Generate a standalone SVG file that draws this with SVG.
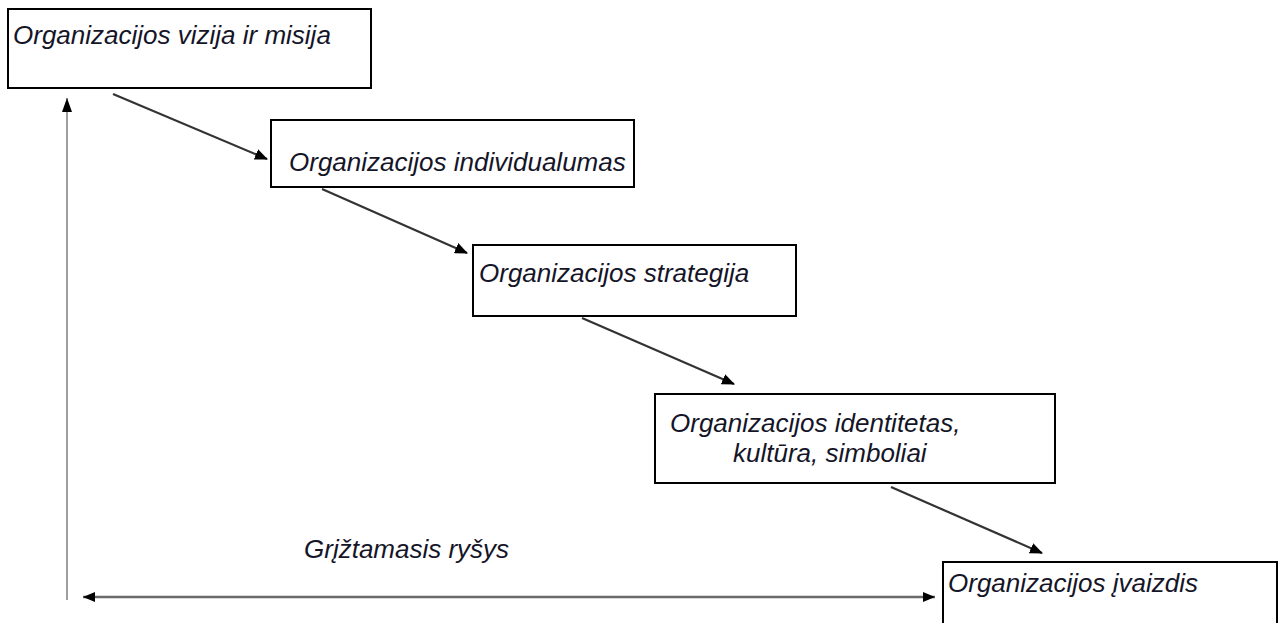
<svg xmlns="http://www.w3.org/2000/svg" width="1284" height="623" viewBox="0 0 1284 623">
  <style>
    .box { fill: #ffffff; stroke: #000000; stroke-width: 2; }
    .lbl { font-family: "Liberation Sans", Arial, sans-serif; font-style: italic; font-size: 26px; fill: #151528; }
    .flow { stroke: #333333; stroke-width: 2.2; fill: none; marker-end: url(#head); }
    .fb { stroke: #6a6a6a; fill: none; }
  </style>
  <defs>
    <marker id="head" viewBox="0 0 13 11" refX="12" refY="5.5" markerWidth="13" markerHeight="11" markerUnits="userSpaceOnUse" orient="auto">
      <path d="M0,0 L13,5.5 L0,11 Z" fill="#000000"/>
    </marker>
    <marker id="headS" viewBox="0 0 12 10" refX="12" refY="5" markerWidth="12" markerHeight="10" markerUnits="userSpaceOnUse" orient="auto-start-reverse">
      <path d="M0,0 L12,5 L0,10 Z" fill="#000000"/>
    </marker>
    <marker id="headV" viewBox="0 0 14 10" refX="14" refY="5" markerWidth="14" markerHeight="10" markerUnits="userSpaceOnUse" orient="auto">
      <path d="M0,0 L14,5 L0,10 Z" fill="#000000"/>
    </marker>
  </defs>

  <rect width="1284" height="623" fill="#ffffff"/>

  <!-- connectors -->
  <g id="connectors">
    <line class="flow" x1="113" y1="94" x2="267" y2="159"/>
    <line class="flow" x1="322" y1="189" x2="467" y2="253"/>
    <line class="flow" x1="582" y1="318" x2="734" y2="384"/>
    <line class="flow" x1="891" y1="487" x2="1042" y2="553"/>
    <!-- feedback loop -->
    <line class="fb" stroke-width="1.3" x1="67" y1="600" x2="67" y2="98" marker-end="url(#headV)"/>
    <line class="fb" stroke-width="2.6" x1="83" y1="597" x2="935" y2="597" marker-start="url(#headS)" marker-end="url(#headS)"/>
    <text class="lbl" x="304" y="558">Grįžtamasis ryšys</text>
  </g>

  <g id="vizija">
    <rect class="box" x="8" y="9" width="363" height="79"/>
    <text class="lbl" x="13" y="44">Organizacijos vizija ir misija</text>
  </g>

  <g id="individualumas">
    <rect class="box" x="271" y="120" width="363" height="67"/>
    <text class="lbl" x="289" y="171">Organizacijos individualumas</text>
  </g>

  <g id="strategija">
    <rect class="box" x="473" y="245" width="323" height="71"/>
    <text class="lbl" x="479" y="282">Organizacijos strategija</text>
  </g>

  <g id="identitetas">
    <rect class="box" x="655" y="394" width="400" height="89"/>
    <text class="lbl" x="670" y="432">Organizacijos identitetas,</text>
    <text class="lbl" x="733" y="462">kultūra, simboliai</text>
  </g>

  <g id="ivaizdis">
    <rect class="box" x="943" y="562" width="334" height="70"/>
    <text class="lbl" x="948" y="592">Organizacijos įvaizdis</text>
  </g>
</svg>
